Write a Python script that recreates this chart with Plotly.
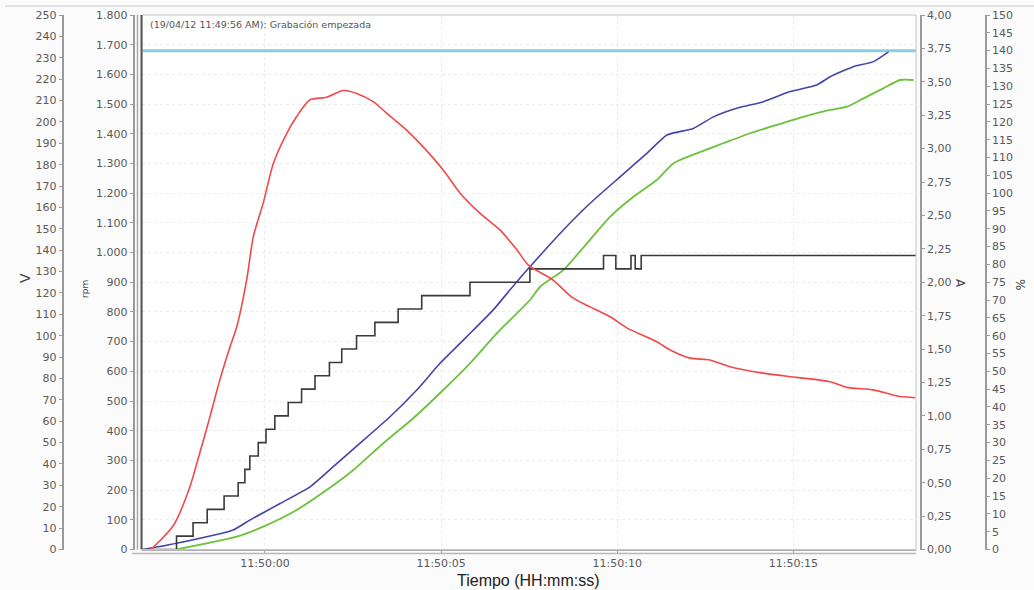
import pandas as pd
import plotly.graph_objects as go

# ---------------- data (time in seconds relative to 11:50:00) ----------------
BASE = "2012-04-19 11:50:00"
t_range = [-3.49, 18.48]

# red series (% axis)
red_t = [-3.45, -3.27, -2.65, -2.51, -2.13, -1.85, -1.56, -1.28, -0.99, -0.80, -0.52, -0.33, -0.05,
         0.24, 0.62, 0.90, 1.28, 1.75, 2.22, 2.60, 3.07, 3.46, 4.02, 4.49, 5.06, 5.54, 6.10,
         6.67, 7.15, 7.48, 8.18, 8.74, 9.80, 10.27, 11.12, 11.50, 12.07, 12.63, 13.20, 14.14,
         15.10, 16.04, 16.52, 17.27, 17.94, 18.46]
red_pct = [0, 0, 6.0, 8.3, 17.6, 27.1, 37.3, 47.6, 56.9, 62.5, 75.6, 87.8, 97.2,
           108.4, 116.8, 121.5, 126.2, 126.9, 128.8, 128.0, 125.7, 122.4, 117.7, 113.0, 106.5, 100.0, 94.4,
           89.7, 84.1, 79.8, 75.6, 70.6, 65.3, 62.2, 58.3, 56.0, 53.7, 53.2, 51.3, 49.5,
           48.3, 47.1, 45.5, 44.8, 43.1, 42.6]

# blue series (rpm axis)
blue_t = [-3.45, -2.51, -0.90, -0.43, 0.43, 1.28, 1.94, 2.70, 3.55, 4.31, 4.97, 5.73, 6.48, 7.15,
          7.52, 8.47, 9.23, 10.08, 10.84, 11.41, 12.16, 12.73, 13.39, 14.15, 14.91, 15.66, 16.04,
          16.70, 17.27, 17.70]
blue_rpm = [0, 21, 66, 99, 155, 211, 279, 358, 447, 537, 627, 717, 807, 902,
            952, 1076, 1166, 1255, 1334, 1396, 1418, 1457, 1486, 1508, 1542, 1564, 1592,
            1626, 1643, 1676]

# green series (V axis)
green_t = [-2.51, -1.66, -0.80, -0.05, 0.90, 1.75, 2.51, 3.36, 4.21, 5.06, 5.82, 6.58, 7.52, 7.81,
           8.47, 9.14, 9.80, 10.46, 11.12, 11.59, 12.26, 13.01, 13.77, 14.53, 15.28, 16.04, 16.52,
           16.99, 17.55, 18.03, 18.41]
green_v = [0, 2.9, 6.0, 10.7, 18.5, 27.8, 37.2, 49.7, 61.4, 74.6, 87.1, 101.1, 116.7, 122.9,
           130.7, 143.2, 155.7, 165.0, 172.8, 180.6, 185.3, 190.0, 194.7, 198.6, 202.4, 205.6, 207.1,
           211.0, 215.7, 219.6, 219.6]

# black step series (A axis)
black_t = [-3.49, -2.51, -2.04, -1.64, -1.16, -0.76, -0.57, -0.43, -0.19, 0.03, 0.28, 0.66, 1.04,
           1.42, 1.83, 2.18, 2.60, 3.12, 3.78, 4.45, 5.82, 7.52, 9.61, 9.96, 10.39, 10.51, 10.68, 18.48]
black_a = [0.0, 0.1, 0.2, 0.3, 0.4, 0.5, 0.6, 0.7, 0.8, 0.9, 1.0, 1.1, 1.2,
           1.3, 1.4, 1.5, 1.6, 1.7, 1.8, 1.9, 2.0, 2.1, 2.2, 2.1, 2.2, 2.1, 2.2, 2.2]

# cyan reference (rpm axis)
cyan_rpm = [1680, 1680]

event_text = "(19/04/12 11:49:56 AM): Grabación empezada"
x_title = "Tiempo (HH:mm:ss)"


def to_time(ts):
    base = pd.Timestamp(BASE)
    return [(base + pd.to_timedelta(v, unit="s")).strftime("%Y-%m-%d %H:%M:%S.%f") for v in ts]


W, H = 1034, 590
def px(x):
    return x / W
def py(y):
    return (H - y) / H

XD = [px(142), px(916)]
YD = [py(549.5), py(15)]

fig = go.Figure()
fig.add_trace(go.Scatter(x=to_time(t_range), y=cyan_rpm, yaxis="y2", mode="lines",
                         line=dict(color="#86cfe2", width=3)))
fig.add_trace(go.Scatter(x=to_time(black_t), y=black_a, yaxis="y3", mode="lines",
                         line=dict(color="#3a3a3a", width=1.6, shape="hv")))
fig.add_trace(go.Scatter(x=to_time(green_t), y=green_v, yaxis="y", mode="lines",
                         line=dict(color="#6cc23c", width=1.8, shape="spline", smoothing=0.6)))
fig.add_trace(go.Scatter(x=to_time(blue_t), y=blue_rpm, yaxis="y2", mode="lines",
                         line=dict(color="#4444aa", width=1.6, shape="spline", smoothing=0.5)))
fig.add_trace(go.Scatter(x=to_time(red_t), y=red_pct, yaxis="y4", mode="lines",
                         line=dict(color="#f24848", width=1.6, shape="spline", smoothing=0.7)))

tickfont = dict(family="DejaVu Sans", size=11, color="#5a5a5a")
common_y = dict(domain=YD, anchor="free", showline=True, linecolor="#9a9a9a", linewidth=1.5,
                ticks="outside", ticklen=3, tickcolor="#9a9a9a", tickfont=tickfont,
                showgrid=False, zeroline=False, fixedrange=True, automargin=False)

fig.update_layout(
    template="none",
    width=W, height=H, autosize=False,
    margin=dict(l=0, r=0, t=0, b=0, pad=0),
    paper_bgcolor="#fbfbfb", plot_bgcolor="#ffffff",
    showlegend=False,
    separators=",.",
    xaxis=dict(domain=XD, anchor="free", position=YD[0], type="date", automargin=False,
               range=to_time(t_range), tickformat="%H:%M:%S", tick0=BASE, dtick=5000,
               showline=True, linecolor="#b0b0b0", linewidth=2, ticks="outside", ticklen=3,
               tickcolor="#9a9a9a", tickfont=tickfont, showgrid=True, gridcolor="#ebebeb",
               griddash="dot", zeroline=False),
    yaxis=dict(common_y, range=[0, 250], dtick=10, position=px(62.5), side="left"),
    yaxis2=dict(common_y, range=[0, 1800], dtick=100, tickformat=",d", position=px(133.5),
                side="left", overlaying="y", showgrid=True, gridcolor="#ebebeb", griddash="dot"),
    yaxis3=dict(common_y, range=[0, 4], dtick=0.25, tickformat=".2f", position=px(920.7),
                side="right", overlaying="y", linewidth=2),
    yaxis4=dict(common_y, range=[0, 150], dtick=5, position=px(986), side="right", overlaying="y"),
    shapes=[
        dict(type="line", xref="paper", yref="paper", x0=px(5), x1=1, y0=py(6), y1=py(6),
             line=dict(color="#c8c8c8", width=1)),
        dict(type="rect", xref="paper", yref="paper", x0=XD[0], x1=XD[1], y0=YD[0], y1=YD[1],
             line=dict(color="#c4c4c4", width=1)),
        dict(type="line", xref="paper", yref="paper", x0=px(137.5), x1=px(137.5), y0=YD[0], y1=YD[1],
             line=dict(color="#a8a8a8", width=1.5)),
        dict(type="line", xref="paper", yref="paper", x0=px(141.5), x1=px(141.5), y0=YD[0], y1=YD[1],
             line=dict(color="#555555", width=2)),
        dict(type="line", xref="paper", yref="paper", x0=px(132), x1=XD[1], y0=py(553.5), y1=py(553.5),
             line=dict(color="#b8b8b8", width=1.5)),
    ],
    annotations=[
        dict(text=event_text, xref="paper", yref="paper", x=px(148), y=py(24), xanchor="left",
             yanchor="middle", showarrow=False, font=dict(family="DejaVu Sans", size=9.5, color="#555")),
        dict(text=x_title, xref="paper", yref="paper", x=px(528), y=py(580), xanchor="center",
             yanchor="middle", showarrow=False, font=dict(family="Liberation Sans", size=16, color="#222")),
        dict(text="V", xref="paper", yref="paper", x=px(15), y=py(278), textangle=-90,
             showarrow=False, font=dict(family="DejaVu Sans", size=14, color="#444")),
        dict(text="rpm", xref="paper", yref="paper", x=px(78), y=py(289), textangle=-90,
             showarrow=False, font=dict(family="DejaVu Sans", size=9, color="#444")),
        dict(text="A", xref="paper", yref="paper", x=px(969), y=py(283), textangle=90,
             showarrow=False, font=dict(family="DejaVu Sans", size=12, color="#444")),
        dict(text="%", xref="paper", yref="paper", x=px(1029), y=py(284), textangle=90,
             showarrow=False, font=dict(family="DejaVu Sans", size=12, color="#444")),
    ],
)

fig.write_html("out.html", config={"displayModeBar": False},
               post_script="document.body.style.margin='0';document.body.style.overflow='hidden';")
